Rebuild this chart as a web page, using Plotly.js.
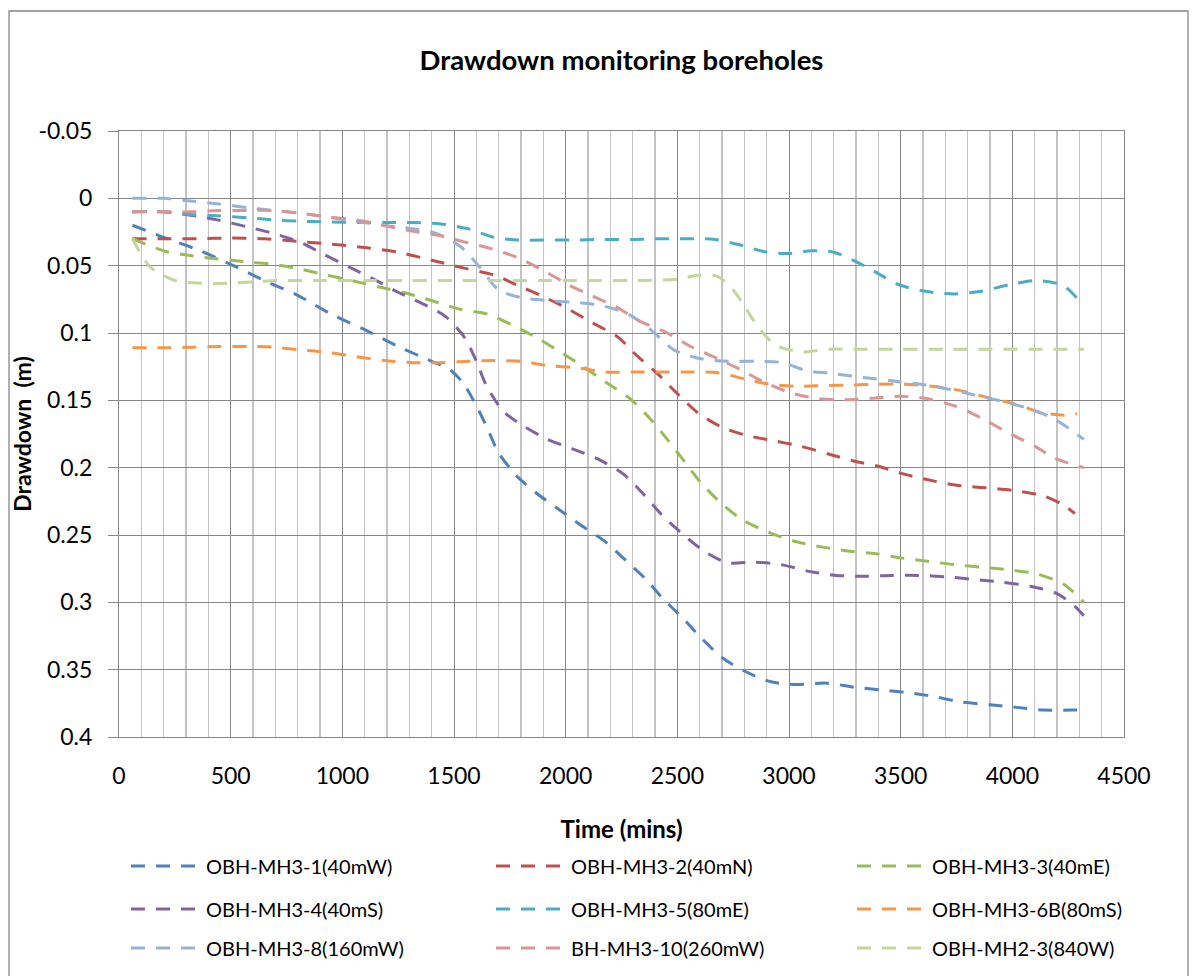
<!DOCTYPE html>
<html>
<head>
<meta charset="utf-8">
<script src="https://cdn.plot.ly/plotly-3.0.1.min.js"></script>
<style>html,body{margin:0;padding:0;background:#fff;}#chart{width:1198px;height:976px;}</style>
</head>
<body>
<div id="chart"></div>
<script>
// ---- Data (time in mins, drawdown in m) ----
const names = ["OBH-MH3-1(40mW)","OBH-MH3-2(40mN)","OBH-MH3-3(40mE)","OBH-MH3-4(40mS)","OBH-MH3-5(80mE)","OBH-MH3-6B(80mS)","OBH-MH3-8(160mW)","BH-MH3-10(260mW)","OBH-MH2-3(840W)"];

const t1 = [60,200,350,500,650,800,950,1100,1250,1400,1480,1540,1600,1650,1700,1780,1870,1970,2070,2170,2270,2360,2440,2520,2610,2700,2800,2920,3040,3170,3290,3410,3530,3650,3770,3900,4020,4140,4260,4320];
const v1 = [0.020,0.029,0.038,0.049,0.061,0.072,0.086,0.0975,0.110,0.121,0.127,0.137,0.154,0.171,0.189,0.206,0.219,0.231,0.243,0.254,0.269,0.283,0.298,0.311,0.327,0.341,0.351,0.359,0.361,0.360,0.363,0.365,0.367,0.370,0.374,0.376,0.378,0.380,0.380,0.380];

const t2 = [60,200,350,500,650,800,950,1100,1250,1400,1550,1680,1790,1900,2010,2120,2230,2320,2410,2500,2590,2700,2810,2930,3050,3180,3290,3400,3520,3650,3770,3890,4010,4140,4220,4280];
const v2 = [0.030,0.030,0.030,0.0295,0.030,0.032,0.034,0.0365,0.040,0.046,0.052,0.057,0.065,0.073,0.082,0.0925,0.1025,0.117,0.130,0.145,0.159,0.170,0.176,0.180,0.184,0.190,0.195,0.199,0.205,0.210,0.2135,0.215,0.217,0.221,0.227,0.234];

const t3 = [60,200,320,440,560,690,810,930,1040,1170,1300,1420,1530,1650,1760,1875,1975,2070,2180,2290,2380,2455,2530,2605,2700,2800,2910,3020,3150,3270,3390,3500,3620,3740,3870,3990,4110,4230,4320];
const v3 = [0.030,0.039,0.0425,0.045,0.047,0.049,0.0525,0.057,0.061,0.066,0.071,0.077,0.0825,0.086,0.094,0.104,0.114,0.124,0.1366,0.149,0.164,0.179,0.195,0.211,0.227,0.2396,0.248,0.2545,0.259,0.262,0.264,0.267,0.2695,0.272,0.274,0.276,0.279,0.2866,0.300];

const t4 = [60,200,320,440,570,690,810,910,1030,1140,1240,1350,1460,1550,1600,1645,1720,1810,1920,2030,2150,2260,2350,2430,2515,2620,2725,2845,2965,3090,3210,3340,3460,3580,3700,3830,3950,4080,4200,4280,4320];
const v4 = [0.010,0.010,0.0125,0.016,0.021,0.026,0.0325,0.041,0.051,0.060,0.069,0.0775,0.0875,0.104,0.121,0.139,0.158,0.169,0.179,0.186,0.194,0.205,0.220,0.235,0.248,0.262,0.2706,0.2701,0.272,0.277,0.280,0.2806,0.280,0.280,0.281,0.283,0.285,0.288,0.2935,0.303,0.310];

const t5 = [60,200,320,440,580,690,810,940,1060,1190,1320,1440,1560,1680,1790,1900,2030,2170,2300,2430,2550,2670,2790,2900,3000,3100,3200,3300,3390,3490,3610,3740,3860,3990,4110,4230,4320];
const v5 = [0.010,0.010,0.012,0.013,0.0145,0.016,0.017,0.0175,0.018,0.018,0.018,0.019,0.0225,0.029,0.031,0.031,0.031,0.0305,0.0305,0.030,0.030,0.0305,0.035,0.040,0.041,0.039,0.040,0.047,0.055,0.064,0.069,0.071,0.069,0.064,0.061,0.065,0.080];

const t6 = [60,200,330,450,580,690,810,940,1060,1190,1320,1440,1570,1680,1800,1910,2060,2180,2300,2430,2560,2680,2800,2910,3030,3160,3280,3400,3510,3640,3770,3890,4010,4130,4230,4290];
const v6 = [0.111,0.111,0.1105,0.110,0.110,0.1105,0.1125,0.1145,0.1175,0.1205,0.122,0.122,0.121,0.1205,0.121,0.124,0.126,0.129,0.129,0.129,0.129,0.1295,0.134,0.138,0.1396,0.139,0.1386,0.138,0.138,0.1396,0.1428,0.148,0.1527,0.159,0.161,0.160];

const t7 = [60,200,320,440,580,690,810,940,1060,1180,1310,1420,1530,1615,1700,1810,1930,2060,2170,2280,2380,2485,2600,2730,2860,2970,3080,3190,3330,3460,3590,3710,3830,3960,4080,4190,4320];
const v7 = [0.000,0.000,0.002,0.004,0.007,0.009,0.011,0.014,0.017,0.020,0.0225,0.026,0.036,0.051,0.068,0.074,0.076,0.0775,0.080,0.086,0.0975,0.1125,0.119,0.121,0.121,0.122,0.128,0.130,0.133,0.1355,0.138,0.1416,0.146,0.151,0.1565,0.164,0.179];

const t8 = [60,200,320,450,580,690,810,940,1060,1180,1300,1430,1550,1670,1785,1905,2010,2120,2230,2330,2455,2560,2680,2780,2890,3000,3120,3250,3370,3490,3610,3740,3860,3980,4100,4190,4320];
const v8 = [0.010,0.010,0.010,0.009,0.009,0.009,0.011,0.014,0.016,0.020,0.024,0.0275,0.0325,0.0375,0.044,0.054,0.064,0.0725,0.081,0.091,0.100,0.110,0.119,0.127,0.1366,0.144,0.1485,0.1495,0.1485,0.147,0.1485,0.154,0.163,0.174,0.184,0.193,0.200];

const t9 = [60,140,250,370,490,600,720,900,1100,1300,1500,1700,1900,2100,2300,2500,2600,2680,2750,2800,2860,2940,3060,3180,3300,3500,3700,3900,4100,4320];
const v9 = [0.030,0.051,0.061,0.063,0.063,0.062,0.061,0.061,0.061,0.061,0.061,0.061,0.061,0.061,0.061,0.060,0.057,0.058,0.068,0.080,0.095,0.109,0.114,0.112,0.112,0.112,0.112,0.112,0.112,0.112];

const yTickVals = [-0.05,0,0.05,0.1,0.15,0.2,0.25,0.3,0.35,0.4];
const yTickLabels = ["-0.05","0","0.05","0.1","0.15","0.2","0.25","0.3","0.35","0.4"];

const colors = ["#4F81BD","#C0504D","#9BBB59","#8064A2","#4BACC6","#F79646","#95B3D7","#D99694","#C3D69B"];

const T = [t1,t2,t3,t4,t5,t6,t7,t8,t9];
const V = [v1,v2,v3,v4,v5,v6,v7,v8,v9];

// one legend per entry, laid out as 3 columns x 3 rows like the original
const legendIds = ["legend","legend2","legend3","legend4","legend5","legend6","legend7","legend8","legend9"];
const colPx = [126, 491, 852];
const rowPx = [866, 909, 948];

const traces = T.map((t,i) => ({
  x: t, y: V[i], name: names[i], type: "scatter", mode: "lines",
  line: {color: colors[i], width: 3, dash: "14px,11px", shape: "spline", smoothing: 0.8},
  legend: legendIds[i], showlegend: true
}));

const font = "Lato, 'Open Sans', sans-serif";
function legendCfg(i){
  const col = i % 3, row = Math.floor(i / 3);
  return {
    orientation: "h", xref: "container", yref: "container",
    x: colPx[col] / 1198, xanchor: "left",
    y: 1 - rowPx[row] / 976, yanchor: "middle",
    itemwidth: 70,
    font: {family: font, size: 20, color: "#000"},
    bgcolor: "rgba(0,0,0,0)", borderwidth: 0
  };
}

const layout = {
  width: 1198, height: 976,
  showlegend: true,
  margin: {l: 119, r: 74, t: 131, b: 239, autoexpand: false},
  paper_bgcolor: "#fff", plot_bgcolor: "#fff",
  font: {family: font, color: "#000"},
  title: {text: "<b>Drawdown monitoring boreholes</b>", font: {family: font, size: 27.5, color: "#000"},
          x: 0.5, xref: "paper", xanchor: "center", y: 1 - 60/976, yanchor: "middle"},
  xaxis: {
    range: [0, 4500], dtick: 500, tick0: 0,
    showgrid: true, gridcolor: "#878787", gridwidth: 1,
    minor: {dtick: 100, showgrid: true, gridcolor: "#C4C4C4", gridwidth: 1.2, ticks: ""},
    zeroline: false, showline: true, mirror: true, linecolor: "#878787", linewidth: 1,
    ticks: "outside", ticklen: 18, tickcolor: "rgba(0,0,0,0)",
    tickfont: {family: font, size: 23, color: "#000"},
    title: {text: "<b>Time (mins)</b>", font: {family: font, size: 24, color: "#000"}, standoff: 33}
  },
  yaxis: {
    range: [0.4, -0.05], tickvals: yTickVals, ticktext: yTickLabels,
    showgrid: true, gridcolor: "#878787", gridwidth: 1,
    zeroline: false, showline: true, mirror: true, linecolor: "#878787", linewidth: 1,
    ticks: "outside", ticklen: 10, tickcolor: "#878787",
    ticklabelstandoff: 11,
    tickfont: {family: font, size: 23, color: "#000"},
    title: {text: "<b>Drawdown  (m)</b>", font: {family: font, size: 23, color: "#000"}, standoff: 0}
  },
  shapes: [{type: "rect", xref: "paper", yref: "paper",
            x0: (9 - 119)/1005, x1: (1188 - 119)/1005, y0: (737 - 1000)/606, y1: (737 - 11)/606,
            line: {color: "#878787", width: 1.3}, fillcolor: "rgba(0,0,0,0)", layer: "below"}]
};
legendIds.forEach((id, i) => { layout[id] = legendCfg(i); });

Plotly.newPlot("chart", traces, layout, {displayModeBar: false, staticPlot: true});
</script>
</body>
</html>
